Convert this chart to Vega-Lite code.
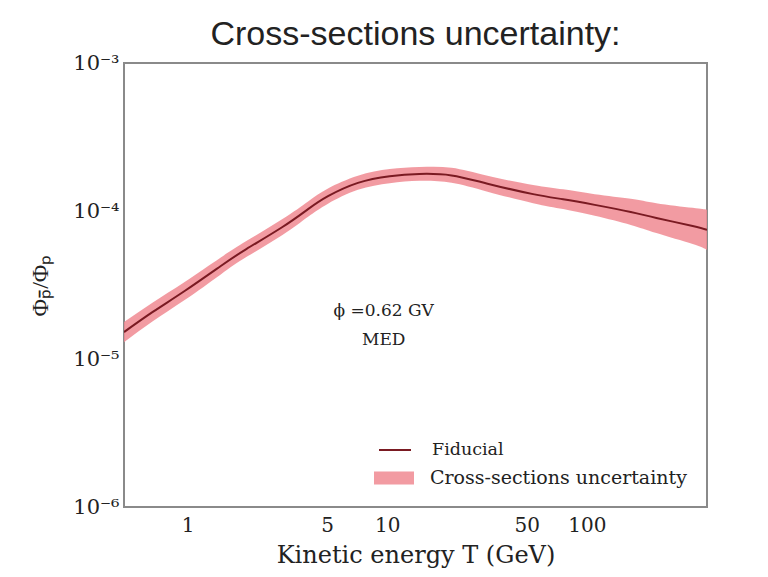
{
  "$schema": "https://vega.github.io/schema/vega-lite/v6.json",
  "width": 583,
  "height": 444,
  "autosize": {"type": "none"},
  "padding": {"left": 124, "top": 63, "right": 61, "bottom": 70},
  "background": "white",
  "title": {"text": "Cross-sections uncertainty:", "font": "Liberation Sans", "fontSize": 34, "fontWeight": "normal", "color": "#222222", "offset": 0},
  "config": {
    "view": {"stroke": "#8a8a8a", "strokeWidth": 2},
    "axis": {"grid": false, "domain": false, "ticks": false, "labelFont": "DejaVu Serif", "titleFont": "DejaVu Serif", "labelColor": "#222222", "titleColor": "#222222", "titleFontWeight": "normal"}
  },
  "datasets": {
    "curve": [
      {"T": 0.48, "center": 1.52e-5, "lower": 1.30e-5, "upper": 1.78e-5},
      {"T": 0.669, "center": 2.08e-5, "lower": 1.80e-5, "upper": 2.41e-5},
      {"T": 0.966, "center": 2.88e-5, "lower": 2.50e-5, "upper": 3.31e-5},
      {"T": 1.466, "center": 4.25e-5, "lower": 3.73e-5, "upper": 4.85e-5},
      {"T": 1.968, "center": 5.53e-5, "lower": 4.88e-5, "upper": 6.26e-5},
      {"T": 2.986, "center": 7.8e-5, "lower": 6.89e-5, "upper": 8.83e-5},
      {"T": 4.013, "center": 1.03e-4, "lower": 9.14e-5, "upper": 1.161e-4},
      {"T": 5.05, "center": 1.26e-4, "lower": 1.12e-4, "upper": 1.42e-4},
      {"T": 7.13, "center": 1.55e-4, "lower": 1.39e-4, "upper": 1.73e-4},
      {"T": 10.29, "center": 1.72e-4, "lower": 1.54e-4, "upper": 1.92e-4},
      {"T": 14.5, "center": 1.78e-4, "lower": 1.60e-4, "upper": 1.98e-4},
      {"T": 21.0, "center": 1.74e-4, "lower": 1.55e-4, "upper": 1.96e-4},
      {"T": 31.8, "center": 1.53e-4, "lower": 1.35e-4, "upper": 1.73e-4},
      {"T": 53.8, "center": 1.30e-4, "lower": 1.13e-4, "upper": 1.50e-4},
      {"T": 76.1, "center": 1.20e-4, "lower": 1.03e-4, "upper": 1.40e-4},
      {"T": 109.6, "center": 1.10e-4, "lower": 9.27e-5, "upper": 1.30e-4},
      {"T": 166, "center": 9.85e-5, "lower": 8.05e-5, "upper": 1.21e-4},
      {"T": 223, "center": 8.97e-5, "lower": 7.10e-5, "upper": 1.13e-4},
      {"T": 339, "center": 7.92e-5, "lower": 5.98e-5, "upper": 1.05e-4},
      {"T": 400, "center": 7.45e-5, "lower": 5.46e-5, "upper": 1.02e-4}
    ],
    "notes": [
      {"T": 9.6, "v": 2.1e-5, "label": "ϕ =0.62 GV"},
      {"T": 9.6, "v": 1.35e-5, "label": "MED"}
    ]
  },
  "layer": [
    {
      "data": {"name": "curve"},
      "mark": {"type": "area", "interpolate": "natural", "opacity": 0.85, "clip": true},
      "encoding": {
        "x": {"field": "T", "type": "quantitative", "scale": {"type": "log", "domain": [0.48, 400], "nice": false},
          "axis": {"values": [1, 5, 10, 50, 100], "format": "d", "labelFontSize": 20, "labelPadding": 8, "title": "Kinetic energy T (GeV)", "titleFontSize": 24, "titlePadding": 8}},
        "y": {"field": "lower", "type": "quantitative", "scale": {"type": "log", "domain": [1e-6, 1e-3], "nice": false},
          "axis": {"values": [1e-6, 1e-5, 1e-4, 1e-3], "labelExpr": "'10' + (datum.value < 5e-6 ? '⁻⁶' : datum.value < 5e-5 ? '⁻⁵' : datum.value < 5e-4 ? '⁻⁴' : '⁻³')", "labelFontSize": 21, "labelPadding": 5, "title": "Φₚ̄/Φₚ", "titleFont": "Liberation Serif", "titleFontSize": 24, "titlePadding": 20}},
        "y2": {"field": "upper"},
        "fill": {"datum": "Cross-sections uncertainty", "type": "nominal", "scale": {"range": ["#f08a92"]},
          "legend": {"title": null, "orient": "none", "legendX": 250, "legendY": 395, "symbolType": "M-1,-0.33H1V0.33H-1Z", "symbolSize": 1600, "symbolOpacity": 0.85, "symbolStrokeWidth": 0, "labelFont": "DejaVu Serif", "labelFontSize": 19, "labelColor": "#222222", "labelOffset": 16, "labelLimit": 400}}
      }
    },
    {
      "data": {"name": "curve"},
      "mark": {"type": "line", "interpolate": "natural", "strokeWidth": 2, "clip": true},
      "encoding": {
        "x": {"field": "T", "type": "quantitative"},
        "y": {"field": "center", "type": "quantitative"},
        "stroke": {"datum": "Fiducial", "type": "nominal", "scale": {"range": ["#7a1a22"]},
          "legend": {"title": null, "orient": "none", "legendX": 254, "legendY": 370, "symbolType": "stroke", "symbolSize": 1024, "symbolStrokeWidth": 2, "labelFont": "DejaVu Serif", "labelFontSize": 17.5, "labelColor": "#222222", "labelOffset": 20, "labelLimit": 400}}
      }
    },
    {
      "data": {"name": "notes"},
      "mark": {"type": "text", "font": "DejaVu Serif", "fontSize": 17, "color": "#222222", "baseline": "middle", "align": "center"},
      "encoding": {
        "x": {"field": "T", "type": "quantitative"},
        "y": {"field": "v", "type": "quantitative"},
        "text": {"field": "label"}
      }
    }
  ]
}
